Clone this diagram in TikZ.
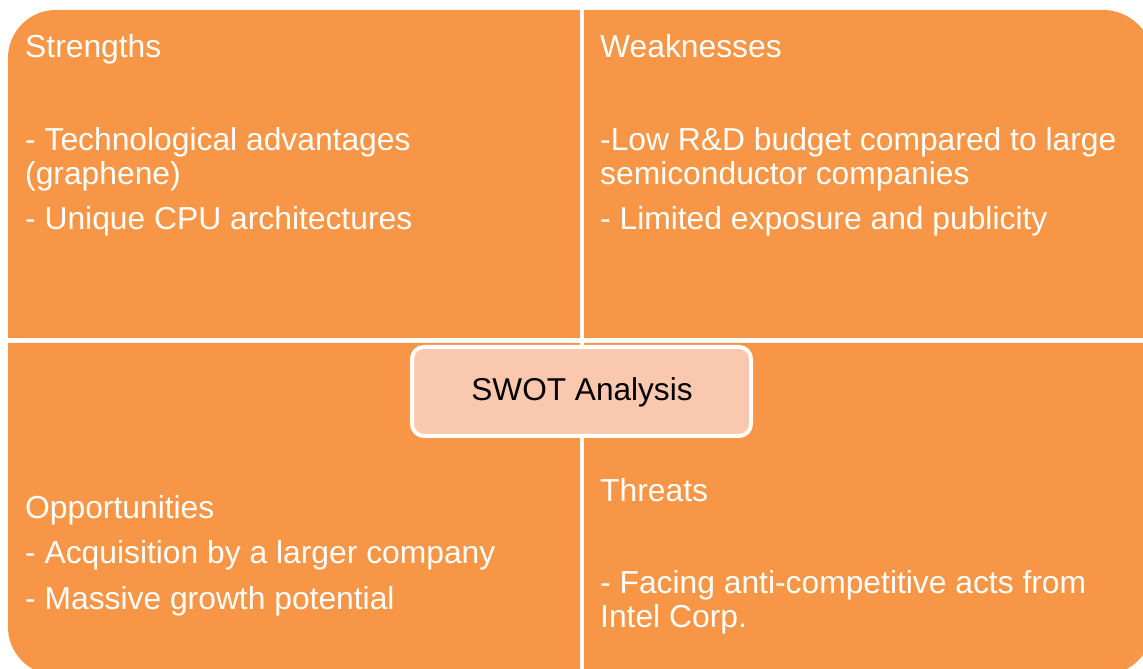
\documentclass[tikz,border=0pt]{standalone}
\usepackage{fontspec}
\setmainfont{Liberation Sans}
\definecolor{swotorange}{RGB}{247, 150, 70}
\definecolor{swotpeach}{RGB}{250, 200, 175}
\usepackage{tikz}
\usetikzlibrary{positioning}

\tikzset{
  panel/.style={fill=swotorange},
  itemtext/.style={anchor=base west, inner sep=0pt, text=white, font=\fontsize{31.8}{34}\selectfont},
  titlebox/.style={draw=white, line width=4pt, fill=swotpeach, rounded corners=12pt,
    minimum width=339pt, minimum height=89pt, inner sep=0pt}
}

\begin{document}
\begin{tikzpicture}[x=1pt, y=1pt]
  \useasboundingbox (0,0) rectangle (1143,669);

  % Four panels, outer corner rounded
  \fill[panel] (580,331) -- (8,331) -- (8,611) arc[start angle=180, end angle=90, radius=48] -- (580,659) -- cycle;
  \fill[panel] (584,331) -- (584,659) -- (1103,659) arc[start angle=90, end angle=0, radius=50] -- (1153,331) -- cycle;
  \fill[panel] (580,326) -- (8,326) -- (8,42) arc[start angle=180, end angle=270, radius=48] -- (580,-6) -- cycle;
  \fill[panel] (584,326) -- (584,-6) -- (1103,-6) arc[start angle=270, end angle=360, radius=50] -- (1153,326) -- cycle;

  % Strengths
  \node[itemtext] (strengths) at (25,611) {Strengths};
  \node[itemtext] (s1) at (25,518) {- Technological advantages};
  \node[itemtext] (s1b) at (25,484) {(graphene)};
  \node[itemtext] (s2) at (25,439) {- Unique CPU architectures};

  % Weaknesses
  \node[itemtext] (weaknesses) at (600,611) {Weaknesses};
  \node[itemtext] (w1) at (600,518) {-Low R\&D budget compared to large};
  \node[itemtext] (w1b) at (600,484) {semiconductor companies};
  \node[itemtext] (w2) at (600,439) {- Limited exposure and publicity};

  % Opportunities
  \node[itemtext] (opportunities) at (25,150) {Opportunities};
  \node[itemtext] (o1) at (25,105) {- Acquisition by a larger company};
  \node[itemtext] (o2) at (25,59) {- Massive growth potential};

  % Threats
  \node[itemtext] (threats) at (600,167) {Threats};
  \node[itemtext] (t1) at (600,75) {- Facing anti-competitive acts from};
  \node[itemtext] (t1b) at (600,41) {Intel Corp.};

  % Centre label
  \node[titlebox] (swot) at (581.5,277.5) {};
  \node[anchor=base, inner sep=0pt, font=\fontsize{31.6}{34}\selectfont] (swotlabel) at (582,268) {SWOT Analysis};
\end{tikzpicture}
\end{document}
